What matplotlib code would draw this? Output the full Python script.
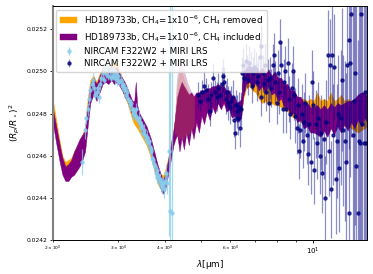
import matplotlib
matplotlib.use("Agg")
import matplotlib.pyplot as plt
import numpy as np

# model spectra: wavelength grid [um], lower/upper edges of each band
model_wl = [2.00, 2.04, 2.08, 2.12, 2.16, 2.20, 2.24, 2.28, 2.32, 2.36, 2.40, 2.44, 2.48,
            2.52, 2.57, 2.62, 2.67, 2.72, 2.77, 2.82, 2.87, 2.92, 2.97, 3.02, 3.07, 3.12,
            3.17, 3.22, 3.27, 3.31, 3.34, 3.37, 3.42, 3.47, 3.52, 3.57, 3.62, 3.67, 3.72,
            3.77, 3.82, 3.87, 3.92, 3.97, 4.02, 4.07, 4.12, 4.17, 4.22, 4.27,
            4.32, 4.38, 4.44, 4.50, 4.57, 4.64, 4.71, 4.78, 4.86, 4.94, 5.02, 5.10, 5.19,
            5.28, 5.37, 5.46, 5.56, 5.66, 5.76, 5.86, 5.96, 6.06, 6.16, 6.26, 6.36, 6.42,
            6.50, 6.62, 6.75, 6.88, 7.02, 7.16, 7.30, 7.45, 7.60, 7.75, 7.90, 8.06, 8.22,
            8.38, 8.55, 8.72, 8.90, 9.08, 9.27, 9.46, 9.66, 9.86, 10.07, 10.28, 10.50,
            10.72, 10.95, 11.18, 11.42, 11.66, 11.91, 12.16, 12.42, 12.68, 12.95, 13.23,
            13.51, 13.80, 14.00]

ch4_in_lo = [0.02475, 0.02466, 0.02458, 0.02451, 0.02448, 0.02448, 0.02450, 0.02451, 0.02453, 0.02455, 0.02458, 0.02462, 0.02474,
             0.02485, 0.02489, 0.02486, 0.02490, 0.02494, 0.02495, 0.02494, 0.02496, 0.02494, 0.02495, 0.02493, 0.02491, 0.02488,
             0.02486, 0.02483, 0.02479, 0.02478, 0.02484, 0.02477, 0.02474, 0.02471, 0.02469, 0.02467, 0.02464, 0.02461, 0.02457,
             0.02453, 0.02449, 0.02446, 0.02443, 0.02442, 0.02445, 0.02450, 0.02455, 0.02460, 0.02465, 0.02468,
             0.02470, 0.02462, 0.02469, 0.02463, 0.02471, 0.02465, 0.02473, 0.02468, 0.02476, 0.02471, 0.02479, 0.02475, 0.02481,
             0.02477, 0.02483, 0.02480, 0.02485, 0.02482, 0.02485, 0.02481, 0.02482, 0.02478, 0.02479, 0.02476, 0.02477, 0.02478,
             0.02488, 0.02494, 0.02495, 0.02492, 0.02495, 0.02491, 0.02493, 0.02490, 0.02493, 0.02489, 0.02490, 0.02486, 0.02487,
             0.02483, 0.02483, 0.02480, 0.02480, 0.02476, 0.02477, 0.02473, 0.02474, 0.02471, 0.02471, 0.02470, 0.02469,
             0.02472, 0.02469, 0.02473, 0.02470, 0.02474, 0.02471, 0.02475, 0.02472, 0.02476, 0.02473, 0.02477,
             0.02474, 0.02478, 0.02476]
ch4_in_hi = [0.02482, 0.02474, 0.02466, 0.02459, 0.02455, 0.02456, 0.02458, 0.02462, 0.02465, 0.02468, 0.02470, 0.02472, 0.02484,
             0.02494, 0.02497, 0.02494, 0.02498, 0.02501, 0.02502, 0.02501, 0.02503, 0.02501, 0.02502, 0.02499, 0.02497, 0.02495,
             0.02492, 0.02489, 0.02486, 0.02486, 0.02495, 0.02484, 0.02480, 0.02478, 0.02476, 0.02474, 0.02471, 0.02468, 0.02464,
             0.02460, 0.02456, 0.02453, 0.02450, 0.02449, 0.02452, 0.02457, 0.02462, 0.02467, 0.02472, 0.02480,
             0.02488, 0.02492, 0.02495, 0.02493, 0.02491, 0.02489, 0.02490, 0.02488, 0.02490, 0.02490, 0.02491, 0.02491, 0.02492,
             0.02492, 0.02493, 0.02493, 0.02494, 0.02493, 0.02493, 0.02491, 0.02491, 0.02488, 0.02488, 0.02485, 0.02486, 0.02487,
             0.02500, 0.02502, 0.02503, 0.02501, 0.02502, 0.02500, 0.02502, 0.02499, 0.02501, 0.02498, 0.02500, 0.02497, 0.02497,
             0.02494, 0.02494, 0.02491, 0.02491, 0.02488, 0.02488, 0.02485, 0.02485, 0.02483, 0.02483, 0.02484, 0.02482,
             0.02484, 0.02482, 0.02485, 0.02483, 0.02485, 0.02484, 0.02485, 0.02486, 0.02486, 0.02487, 0.02489,
             0.02490, 0.02490, 0.02488]

ch4_out_lo = [0.02478, 0.02469, 0.02460, 0.02453, 0.02450, 0.02451, 0.02453, 0.02455, 0.02457, 0.02460, 0.02463, 0.02467, 0.02478,
              0.02487, 0.02490, 0.02487, 0.02491, 0.02494, 0.02496, 0.02495, 0.02497, 0.02496, 0.02496, 0.02494, 0.02491, 0.02488,
              0.02485, 0.02481, 0.02477, 0.02475, 0.02474, 0.02473, 0.02471, 0.02469, 0.02467, 0.02465, 0.02462, 0.02459, 0.02455,
              0.02451, 0.02447, 0.02445, 0.02444, 0.02444, 0.02447, 0.02451, 0.02456, 0.02461, 0.02466, 0.02469,
              0.02471, 0.02464, 0.02471, 0.02465, 0.02473, 0.02467, 0.02475, 0.02470, 0.02478, 0.02473, 0.02481, 0.02477, 0.02483,
              0.02479, 0.02485, 0.02482, 0.02487, 0.02484, 0.02487, 0.02483, 0.02484, 0.02480, 0.02481, 0.02478, 0.02479, 0.02480,
              0.02487, 0.02492, 0.02493, 0.02491, 0.02490, 0.02487, 0.02485, 0.02486, 0.02484, 0.02485, 0.02484, 0.02484, 0.02483,
              0.02482, 0.02481, 0.02479, 0.02478, 0.02477, 0.02476, 0.02475, 0.02474, 0.02474, 0.02473, 0.02474, 0.02473,
              0.02474, 0.02473, 0.02474, 0.02474, 0.02474, 0.02474, 0.02474, 0.02474, 0.02473, 0.02472, 0.02471,
              0.02472, 0.02473, 0.02474]
ch4_out_hi = [0.02486, 0.02477, 0.02468, 0.02460, 0.02457, 0.02458, 0.02459, 0.02462, 0.02464, 0.02467, 0.02470, 0.02474, 0.02487,
              0.02496, 0.02498, 0.02495, 0.02499, 0.02502, 0.02503, 0.02502, 0.02505, 0.02504, 0.02504, 0.02500, 0.02497, 0.02494,
              0.02491, 0.02488, 0.02484, 0.02482, 0.02481, 0.02480, 0.02478, 0.02476, 0.02474, 0.02472, 0.02469, 0.02466, 0.02462,
              0.02458, 0.02455, 0.02452, 0.02451, 0.02451, 0.02454, 0.02458, 0.02463, 0.02468, 0.02473, 0.02479,
              0.02487, 0.02491, 0.02493, 0.02492, 0.02490, 0.02489, 0.02489, 0.02488, 0.02489, 0.02490, 0.02489, 0.02491, 0.02490,
              0.02492, 0.02491, 0.02493, 0.02492, 0.02493, 0.02491, 0.02491, 0.02489, 0.02488, 0.02486, 0.02485, 0.02484, 0.02486,
              0.02499, 0.02501, 0.02502, 0.02500, 0.02500, 0.02498, 0.02497, 0.02496, 0.02495, 0.02494, 0.02494, 0.02493, 0.02493,
              0.02492, 0.02491, 0.02490, 0.02489, 0.02488, 0.02487, 0.02487, 0.02486, 0.02487, 0.02486, 0.02490, 0.02486,
              0.02487, 0.02486, 0.02490, 0.02486, 0.02487, 0.02489, 0.02486, 0.02487, 0.02486, 0.02487, 0.02488,
              0.02487, 0.02486, 0.02487]

# faint outer envelope around 4.3-4.8 um
halo_wl = [4.25, 4.30, 4.36, 4.42, 4.48, 4.55, 4.62, 4.70, 4.80]
halo_in_lo = [0.02470, 0.02470, 0.02468, 0.02468, 0.02468, 0.02470, 0.02470, 0.02472, 0.02474]
halo_in_hi = [0.02478, 0.02496, 0.02503, 0.02504, 0.02502, 0.02498, 0.02494, 0.02491, 0.02489]
halo_out_hi = [0.02477, 0.02492, 0.02499, 0.02500, 0.02498, 0.02494, 0.02491, 0.02489, 0.02488]

# NIRCAM F322W2
nircam_wl = [2.40, 2.44, 2.46, 2.48, 2.50, 2.52, 2.54, 2.56, 2.58, 2.60, 2.62, 2.64, 2.66, 2.68,
             2.70, 2.72, 2.74, 2.76, 2.78, 2.80, 2.82, 2.84, 2.86, 2.88, 2.90, 2.92, 2.94, 2.96,
             2.98, 3.00, 3.02, 3.04, 3.06, 3.08, 3.10, 3.12, 3.14, 3.16, 3.18, 3.20, 3.22, 3.24,
             3.26, 3.28, 3.30, 3.32, 3.34, 3.36, 3.38, 3.40, 3.42, 3.44, 3.46, 3.48, 3.50, 3.52,
             3.54, 3.56, 3.58, 3.60, 3.62, 3.64, 3.66, 3.68, 3.70, 3.72, 3.74, 3.76, 3.78, 3.80,
             3.82, 3.84, 3.86, 3.88, 3.90, 3.92, 3.94, 3.96, 3.98, 4.00, 4.03, 4.06, 4.10, 4.14, 4.17]
nircam_depth = [0.02457, 0.02472, 0.02478, 0.02482, 0.02487, 0.02491, 0.02494, 0.02496, 0.02492, 0.02489,
                0.02490, 0.02492, 0.02488, 0.02494, 0.02497, 0.02499, 0.02496, 0.02501, 0.02499, 0.02502,
                0.02498, 0.02500, 0.02497, 0.02501, 0.02498, 0.02500, 0.02497, 0.02499, 0.02496, 0.02498,
                0.02495, 0.02496, 0.02493, 0.02494, 0.02491, 0.02492, 0.02489, 0.02490, 0.02487, 0.02486,
                0.02484, 0.02485, 0.02482, 0.02480, 0.02481, 0.02479, 0.02482, 0.02478, 0.02477, 0.02478,
                0.02475, 0.02476, 0.02473, 0.02474, 0.02471, 0.02472, 0.02470, 0.02468, 0.02469, 0.02466,
                0.02467, 0.02464, 0.02462, 0.02463, 0.02459, 0.02458, 0.02456, 0.02455, 0.02452, 0.02453,
                0.02450, 0.02451, 0.02448, 0.02449, 0.02446, 0.02447, 0.02445, 0.02447, 0.02444, 0.02448,
                0.02452, 0.02447, 0.02462, 0.02434, 0.02433]
nircam_err = [0.00006, 0.00004, 0.00003, 0.00003, 0.00003, 0.00003, 0.00002, 0.00003, 0.00003, 0.00002,
              0.00003, 0.00002, 0.00003, 0.00003, 0.00002, 0.00003, 0.00002, 0.00003, 0.00002, 0.00003,
              0.00002, 0.00003, 0.00002, 0.00003, 0.00002, 0.00002, 0.00003, 0.00002, 0.00003, 0.00002,
              0.00002, 0.00003, 0.00002, 0.00002, 0.00003, 0.00002, 0.00002, 0.00003, 0.00002, 0.00002,
              0.00003, 0.00002, 0.00002, 0.00003, 0.00002, 0.00002, 0.00003, 0.00002, 0.00002, 0.00003,
              0.00002, 0.00002, 0.00003, 0.00002, 0.00002, 0.00003, 0.00002, 0.00002, 0.00003, 0.00002,
              0.00002, 0.00003, 0.00002, 0.00002, 0.00003, 0.00002, 0.00003, 0.00002, 0.00003, 0.00002,
              0.00003, 0.00002, 0.00003, 0.00003, 0.00003, 0.00003, 0.00003, 0.00003, 0.00004, 0.00004,
              0.00004, 0.00005, 0.00040, 0.00150, 0.00160]

# MIRI LRS
miri_wl = [4.90, 4.97, 5.04, 5.10, 5.16, 5.22, 5.28, 5.33, 5.39, 5.45, 5.51, 5.57, 5.63, 5.69, 5.74,
           5.78, 5.83, 5.88, 5.93, 5.98, 6.03, 6.09, 6.13, 6.16, 6.20, 6.25, 6.29, 6.33, 6.37, 6.41,
           6.46, 6.50, 6.55, 6.60, 6.66, 6.71, 6.75, 6.81, 6.86, 6.92, 6.97, 7.02, 7.08, 7.14, 7.20,
           7.24, 7.28, 7.33, 7.39, 7.45, 7.50, 7.56, 7.62, 7.68, 7.74, 7.80, 7.87, 7.93, 7.99, 8.05,
           8.12, 8.18, 8.24, 8.30, 8.36, 8.43, 8.50, 8.56, 8.63, 8.70, 8.77, 8.84, 8.91, 8.98, 9.05,
           9.12, 9.19, 9.26, 9.33, 9.40, 9.48, 9.56, 9.63, 9.71, 9.79, 9.87, 9.95, 10.03, 10.11, 10.19,
           10.27, 10.36, 10.44, 10.53, 10.62, 10.71, 10.78, 10.87, 10.96, 11.05, 11.12, 11.20, 11.28,
           11.36, 11.44, 11.52, 11.60, 11.70, 11.80, 11.90, 12.00, 12.10, 12.20, 12.30, 12.40, 12.50,
           12.55, 12.62, 12.70, 12.80, 12.90, 13.00, 13.10, 13.20, 13.30, 13.40, 13.50, 13.60, 13.70,
           13.80, 13.90]
miri_depth = [0.02489, 0.02486, 0.02490, 0.02493, 0.02491, 0.02487, 0.02481, 0.02489, 0.02497, 0.02490,
              0.02488, 0.02492, 0.02489, 0.02494, 0.02498, 0.02495, 0.02487, 0.02490, 0.02485, 0.02483,
              0.02486, 0.02488, 0.02477, 0.02471, 0.02484, 0.02481, 0.02478, 0.02483, 0.02473, 0.02482,
              0.02499, 0.02503, 0.02497, 0.02505, 0.02500, 0.02496, 0.02504, 0.02501, 0.02493, 0.02499,
              0.02502, 0.02501, 0.02495, 0.02498, 0.02507, 0.02512, 0.02488, 0.02499, 0.02494, 0.02503,
              0.02490, 0.02496, 0.02485, 0.02497, 0.02492, 0.02503, 0.02508, 0.02495, 0.02485, 0.02499,
              0.02490, 0.02514, 0.02503, 0.02482, 0.02495, 0.02500, 0.02482, 0.02504, 0.02487, 0.02480,
              0.02492, 0.02500, 0.02489, 0.02479, 0.02473, 0.02484, 0.02462, 0.02472, 0.02480, 0.02467,
              0.02476, 0.02485, 0.02470, 0.02461, 0.02475, 0.02457, 0.02495, 0.02484, 0.02453, 0.02475,
              0.02466, 0.02478, 0.02460, 0.02471, 0.02452, 0.02468, 0.02440, 0.02476, 0.02508, 0.02462,
              0.02503, 0.02444, 0.02508, 0.02470, 0.02502, 0.02449, 0.02467, 0.02480, 0.02454, 0.02478,
              0.02496, 0.02472, 0.02467, 0.02457, 0.02503, 0.02433, 0.02515, 0.02504, 0.02527, 0.02470,
              0.02486, 0.02499, 0.02455, 0.02433, 0.02467, 0.02466, 0.02527, 0.02475, 0.02466, 0.02490,
              0.02466]
miri_err = [0.00006, 0.00005, 0.00006, 0.00007, 0.00006, 0.00007, 0.00007, 0.00006, 0.00007, 0.00006,
            0.00007, 0.00007, 0.00006, 0.00008, 0.00008, 0.00007, 0.00007, 0.00007, 0.00008, 0.00008,
            0.00007, 0.00008, 0.00008, 0.00008, 0.00007, 0.00008, 0.00008, 0.00007, 0.00009, 0.00008,
            0.00008, 0.00008, 0.00007, 0.00008, 0.00008, 0.00007, 0.00008, 0.00008, 0.00008, 0.00008,
            0.00009, 0.00008, 0.00009, 0.00009, 0.00009, 0.00010, 0.00009, 0.00009, 0.00009, 0.00010,
            0.00009, 0.00010, 0.00009, 0.00010, 0.00009, 0.00010, 0.00010, 0.00010, 0.00010, 0.00011,
            0.00010, 0.00011, 0.00011, 0.00011, 0.00011, 0.00012, 0.00011, 0.00012, 0.00011, 0.00012,
            0.00012, 0.00012, 0.00012, 0.00013, 0.00012, 0.00013, 0.00013, 0.00013, 0.00014, 0.00013,
            0.00014, 0.00014, 0.00014, 0.00015, 0.00014, 0.00015, 0.00015, 0.00016, 0.00016, 0.00016,
            0.00017, 0.00017, 0.00018, 0.00018, 0.00019, 0.00019, 0.00020, 0.00020, 0.00021, 0.00021,
            0.00022, 0.00023, 0.00024, 0.00024, 0.00025, 0.00026, 0.00027, 0.00028, 0.00030, 0.00032,
            0.00034, 0.00036, 0.00038, 0.00042, 0.00046, 0.00050, 0.00052, 0.00054, 0.00058, 0.00062,
            0.00067, 0.00072, 0.00077, 0.00082, 0.00092, 0.00102, 0.00112, 0.00122, 0.00132, 0.00142,
            0.00152]

label_out = r'HD189733b, CH$_4$=1x10$^{-6}$, CH$_4$ removed'
label_in = r'HD189733b, CH$_4$=1x10$^{-6}$, CH$_4$ included'
label_data = 'NIRCAM F322W2 + MIRI LRS'

fig, ax = plt.subplots(figsize=(3.73, 2.74), dpi=100)
fig.subplots_adjust(left=0.142, right=0.984, bottom=0.124, top=0.978)

f1 = ax.fill_between(model_wl, ch4_out_lo, ch4_out_hi, color='orange', lw=0.3, label=label_out)
f2 = ax.fill_between(model_wl, ch4_in_lo, ch4_in_hi, color='purple', lw=0.3, label=label_in)
ax.fill_between(halo_wl, halo_in_lo, halo_out_hi, color='orange', alpha=0.25, lw=0)
ax.fill_between(halo_wl, halo_in_lo, halo_in_hi, color='purple', alpha=0.25, lw=0)

e1 = ax.errorbar(nircam_wl, nircam_depth, yerr=nircam_err, fmt='o', ms=2.2,
                 color='skyblue', ecolor='skyblue', elinewidth=0.9, alpha=0.75, label=label_data)
e2 = ax.errorbar(miri_wl, miri_depth, yerr=miri_err, fmt='o', ms=2.2,
                 mfc=(0.0, 0.0, 0.5, 0.75), mec=(0.0, 0.0, 0.5, 0.75),
                 ecolor=(0.0, 0.0, 0.55, 0.45), elinewidth=0.9, label=label_data)

ax.set_xscale('log')
ax.set_xlim(2, 14)
ax.set_ylim(0.0242, 0.02531)
ax.set_yticks([0.0242, 0.0244, 0.0246, 0.0248, 0.0250, 0.0252])
ax.set_xlabel(r'$\lambda$[μm]', fontsize=6.4, labelpad=1)
ax.set_ylabel(r'$(R_p/R_\star)^2$', fontsize=6.4, labelpad=3)
ax.tick_params(axis='y', labelsize=4.3, length=2.5, width=0.6, pad=1.5)
ax.tick_params(axis='x', which='major', labelsize=5, length=2.5, width=0.6, pad=1.5)
ax.tick_params(axis='x', which='minor', labelsize=3.2, length=1.5, width=0.5, pad=1.5)
for s in ax.spines.values():
    s.set_linewidth(0.7)
ax.spines['left'].set_color('0.5')
ax.spines['left'].set_linewidth(1.5)

ax.legend(handles=[f1, f2, e1, e2], loc='upper left', fontsize=6.3,
          borderaxespad=0.4, handlelength=2.0, labelspacing=0.35, borderpad=0.4)

fig.savefig('out.png', dpi=100)
